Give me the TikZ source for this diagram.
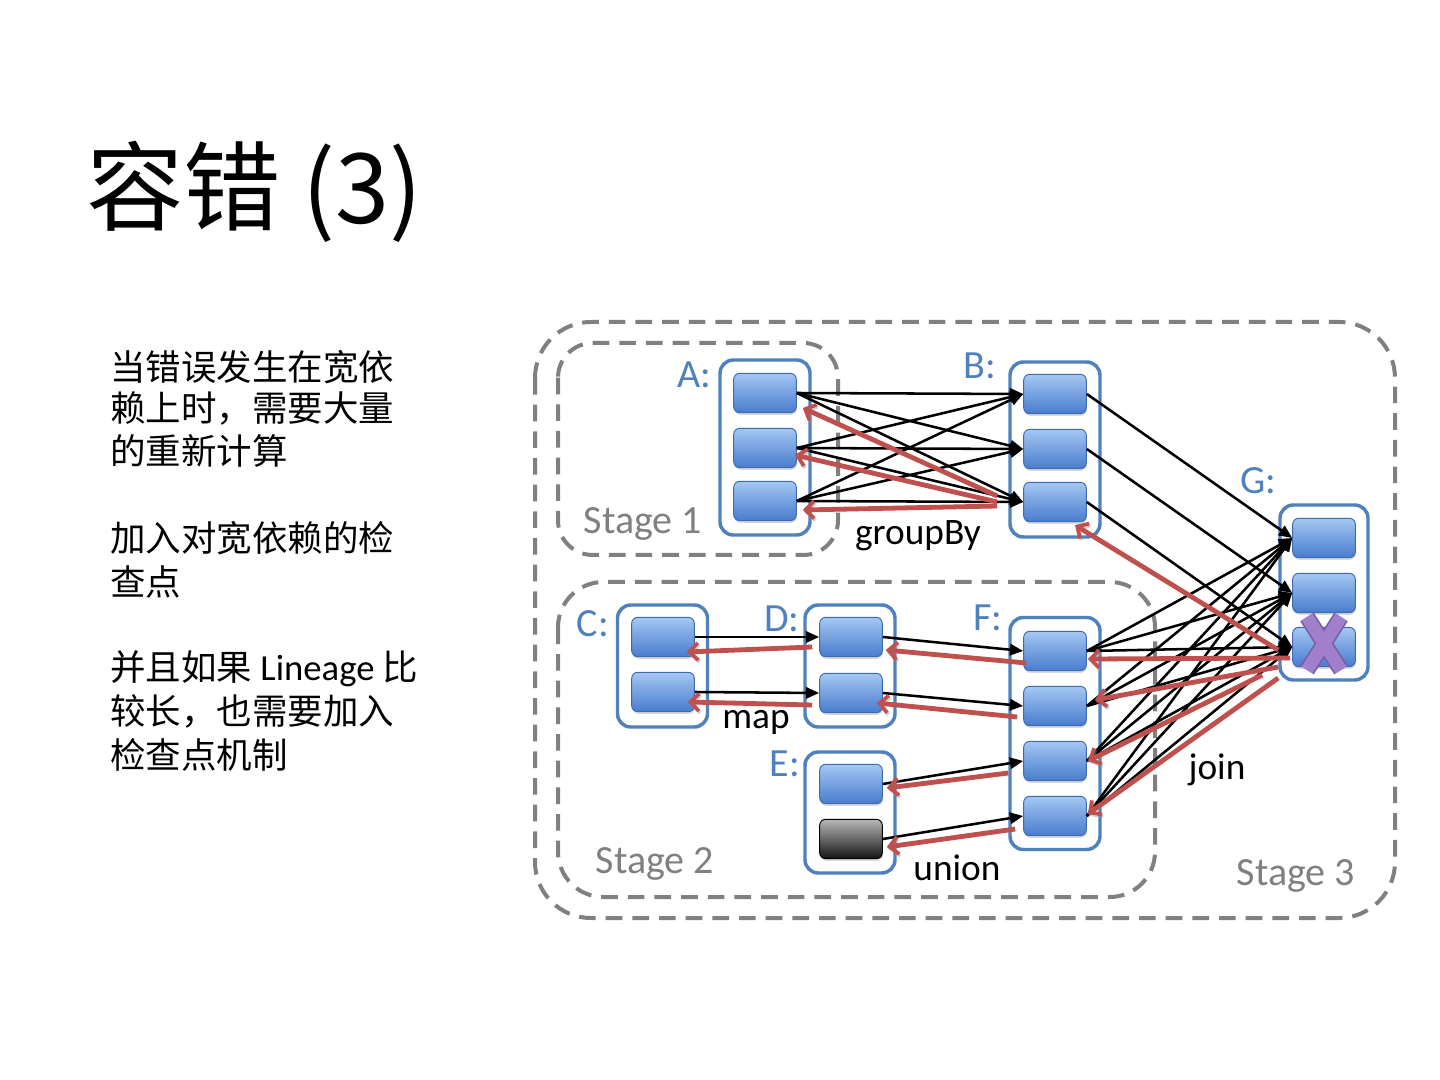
\documentclass[tikz,border=0pt]{standalone}
\usepackage{fontspec}
\setmainfont{Carlito}
\newfontfamily\cjk{Noto Sans CJK SC}
\usetikzlibrary{arrows.meta,shadows}

\definecolor{rddblue}{RGB}{79,129,189}
\definecolor{partline}{RGB}{62,106,176}
\definecolor{parttop}{RGB}{165,199,242}
\definecolor{partbot}{RGB}{72,124,206}
\definecolor{backred}{RGB}{192,80,77}
\definecolor{stagegray}{RGB}{128,128,128}
\definecolor{lostfill}{RGB}{160,128,204}
\definecolor{lostedge}{RGB}{120,92,170}

\begin{document}
\begin{tikzpicture}[x=0.75pt,y=-0.75pt,
    stagebox/.style={draw=stagegray,line width=3pt,dash pattern=on 12.5pt off 7.5pt,rounded corners=#1},
    rdd/.style={draw=rddblue,line width=2.6pt,rounded corners=10pt,minimum width=67.5pt,inner sep=0pt},
    part/.style={draw=partline,line width=0.7pt,rounded corners=4.5pt,top color=parttop,bottom color=partbot,
        minimum width=47pt,minimum height=29.5pt,inner sep=0pt,
        drop shadow={shadow xshift=0.4pt,shadow yshift=-1.6pt,opacity=0.3}},
    deadpart/.style={part,draw=black,top color=black!28,bottom color=black!92},
    rddname/.style={text=rddblue,inner sep=0pt,font=\fontsize{30}{34}\selectfont},
    opname/.style={inner sep=0pt,font=\fontsize{28}{32}\selectfont},
    stagename/.style={text=stagegray,inner sep=0pt,font=\fontsize{30}{34}\selectfont},
    dep/.style={draw=black,line width=1.9pt,-{Triangle[length=10pt,width=8.5pt]}},
    recompute/.style={draw=backred,line width=3.6pt,-{Straight Barb[length=6.5pt,width=13pt,line width=2.8pt]},
        preaction={draw=black!40,opacity=0.45,transform canvas={xshift=0.9pt,yshift=-1.4pt}}},
    lostmark/.style={draw=lostfill,line width=9.5pt,preaction={draw=lostedge,line width=12pt}},
    body/.style={anchor=base west,inner sep=0pt,font=\cjk\fontsize{26.6}{32}\selectfont}]
    \fill [white] (0,0) rectangle (1440,1080);
    \useasboundingbox (0,0) rectangle (1440,1080);

    % title and text
    \node [anchor=base west,inner sep=0pt,font=\cjk\fontsize{73}{80}\selectfont] (title) at (86,224) {容错 (3)};
    \node [body] (l1) at (110,381) {当错误发生在宽依};
    \node [body] (l2) at (110,422) {赖上时，需要大量};
    \node [body] (l3) at (110,465) {的重新计算};
    \node [body] (l4) at (110,552) {加入对宽依赖的检};
    \node [body] (l5) at (110,596) {查点};
    \node [body] (l6) at (110,680) {并且如果{\rmfamily\fontsize{27.5}{32}\selectfont\ Lineage\ }比};
    \node [body] (l7) at (110,724) {较长，也需要加入};
    \node [body] (l8) at (110,768) {检查点机制};

    % stages
    \draw [stagebox=42pt] (535,322) rectangle (1395,918); % Stage 3
    \draw [stagebox=26pt] (558,343) rectangle (838,555); % Stage 1
    \draw [stagebox=34pt] (558,582) rectangle (1155,897); % Stage 2
    \node [stagename] (s1) at (643,524) {Stage 1};
    \node [stagename] (s2) at (655,864) {Stage 2};
    \node [stagename] (s3) at (1296,876) {Stage 3};

    % datasets
    \node [rdd,minimum height=131.25pt] (rddA) at (765,447.5) {};
    \node [rdd,minimum height=131.25pt] (rddB) at (1055,449.5) {};
    \node [rdd,minimum height=131.25pt,minimum width=66pt] (rddG) at (1324,592.5) {};
    \node [rdd,minimum height=91.5pt] (rddC) at (662.5,666) {};
    \node [rdd,minimum height=91.5pt] (rddD) at (850,666) {};
    \node [rdd,minimum height=90.75pt] (rddE) at (850,812.5) {};
    \node [rdd,minimum height=174pt] (rddF) at (1055,733.5) {};
    \node [rddname] (nA) at (694,375) {A:};
    \node [rddname] (nB) at (980,366) {B:};
    \node [rddname] (nG) at (1258,481) {G:};
    \node [rddname] (nC) at (593,624) {C:};
    \node [rddname] (nD) at (782,619) {D:};
    \node [rddname] (nE) at (785,764) {E:};
    \node [rddname] (nF) at (988,618) {F:};

    % partitions
    \foreach \i/\y in {1/393,2/448,3/501} \node [part] (a\i) at (765,\y) {};
    \foreach \i/\y in {1/394,2/449,3/502} \node [part] (b\i) at (1055,\y) {};
    \foreach \i/\y in {1/538,2/593,3/647} \node [part] (g\i) at (1324,\y) {};
    \foreach \i/\y in {1/637,2/692} \node [part] (c\i) at (663,\y) {};
    \foreach \i/\y in {1/637,2/693} \node [part] (d\i) at (851,\y) {};
    \node [part] (e1) at (851,784) {};
    \node [deadpart] (e2) at (851,839) {};
    \foreach \i/\y in {1/651,2/706,3/761,4/816} \node [part] (f\i) at (1055,\y) {};

    % dependencies
    \foreach \i in {1,2,3} \foreach \j in {1,2,3} \draw [dep] (a\i.east) -- (b\j.west);
    \foreach \i in {1,2,3} \draw [dep] (b\i.east) -- (g\i.west);
    \foreach \i in {1,2} \draw [dep] (c\i.east) -- (d\i.west);
    \draw [dep] (d1.east) -- (f1.west);
    \draw [dep] (d2.east) -- (f2.west);
    \draw [dep] (e1.east) -- (f3.west);
    \draw [dep] (e2.east) -- (f4.west);
    \foreach \i in {1,2,3,4} \foreach \j in {1,2,3} \draw [dep] (f\i.east) -- (g\j.west);
    \node [opname] (groupby) at (918,536) {groupBy};
    \node [opname] (map) at (756,722) {map};
    \node [opname] (union) at (957,868) {union};
    \node [opname] (join) at (1217,770) {join};

    % recomputation of the lost partition
    \draw [recompute] ([shift={(-14,3)}]g3.west) -- ([shift={(20,3)}]b3.south);
    \draw [recompute] ([shift={(-26,-6)}]b3.west) -- ([shift={(6,15)}]a1.east);
    \draw [recompute] ([shift={(-26,0)}]b3.west) -- ([shift={(-2,7)}]a2.east);
    \draw [recompute] ([shift={(-26,4)}]b3.west) -- ([shift={(6,9)}]a3.east);
    \draw [recompute] ([shift={(-2,11)}]g3.west) -- ([shift={(1,8)}]f1.east);
    \draw [recompute] ([shift={(-14,20)}]g3.west) -- ([shift={(8,-6)}]f2.east);
    \draw [recompute] ([shift={(-30,28)}]g3.west) -- ([shift={(1,0)}]f3.east);
    \draw [recompute] ([shift={(-14,31)}]g3.west) -- ([shift={(1,-2)}]f4.east);
    \draw [recompute] ([shift={(3,12)}]f1.west) -- ([shift={(3,13)}]d1.east);
    \draw [recompute] ([shift={(-6,11)}]f2.west) -- ([shift={(-6,10)}]d2.east);
    \draw [recompute] ([shift={(-15,12)}]f3.west) -- ([shift={(4,4)}]e1.east);
    \draw [recompute] ([shift={(-8,13)}]f4.west) -- ([shift={(4,8)}]e2.east);
    \draw [recompute] ([shift={(-7,10)}]d1.west) -- ([shift={(-8,15)}]c1.east);
    \draw [recompute] ([shift={(-7,12)}]d2.west) -- ([shift={(-7,10)}]c2.east);
    \draw [lostmark] ([shift={(-17,-30)}]g3.center) -- ([shift={(17,23)}]g3.center)
        ([shift={(17,-30)}]g3.center) -- ([shift={(-17,23)}]g3.center); % lost partition
\end{tikzpicture}
\end{document}
